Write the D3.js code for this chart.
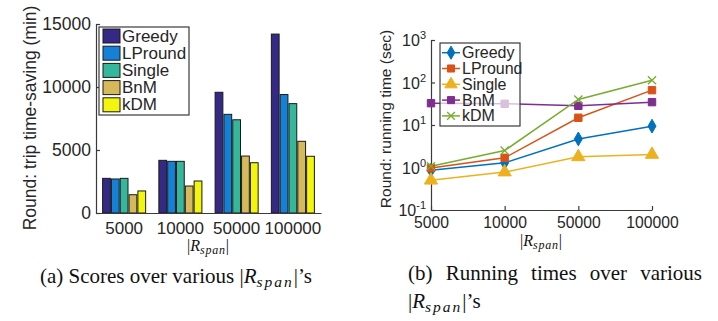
<!DOCTYPE html>
<html>
<head>
<meta charset="utf-8">
<script src="https://cdn.jsdelivr.net/npm/d3@7"></script>
<style>
  body { margin: 0; background: #fff; }
  text { font-family: "Liberation Sans", Arial, sans-serif; fill: #262626; }
  .serif { font-family: "Liberation Serif", "Times New Roman", serif; fill: #111; }
  .axis path, .axis line { stroke: #3a3a3a; stroke-width: 1.2; }
</style>
</head>
<body>
<svg id="chart" width="718" height="321"></svg>
<script>
// categories (|R_span|)
const spans = ["5000", "10000", "50000", "100000"];
const methods = ["Greedy", "LPround", "Single", "BnM", "kDM"];

// (a) trip time-saving (min)
const scoreGreedy = [2750, 4180, 9580, 14200];
const scoreLPround = [2700, 4100, 7830, 9400];
const scoreSingle = [2750, 4100, 7400, 8680];
const scoreBnM = [1450, 2140, 4520, 5690];
const scoreKDM = [1750, 2540, 3990, 4500];

// (b) running time (sec)
const timeGreedy = [0.86, 1.29, 4.7, 9.4];
const timeLPround = [0.97, 1.69, 14.8, 66];
const timeSingle = [0.50, 0.78, 1.78, 2.02];
const timeBnM = [32.6, 31.6, 28.3, 34.5];
const timeKDM = [1.07, 2.5, 39.8, 113];

const yTicksA = [0, 5000, 10000, 15000];
const yTicksB = [0.1, 1, 10, 100, 1000];
const yExpB = ["-1", "0", "1", "2", "3"];

const barColors = ["#342a86", "#1581d6", "#35b79b", "#d6b95a", "#f4f50c"];
const lineColors = ["#0072BD", "#D95319", "#EDB120", "#7E2F8E", "#77AC30"];
const markers = [d3.symbolDiamond, d3.symbolSquare, d3.symbolTriangle, d3.symbolSquare, d3.symbolTimes];

const svg = d3.select("#chart");

// ---------- (a) grouped bars ----------
const scores = [scoreGreedy, scoreLPround, scoreSingle, scoreBnM, scoreKDM];
const xA = d3.scaleBand(spans, [96, 321]).paddingInner(0.235).paddingOuter(0.1175);
const xA1 = d3.scaleBand(methods, [0, xA.bandwidth()]).paddingInner(0.12);
const yA = d3.scaleLinear([0, 15000], [213, 24]);

const gA = svg.append("g");
spans.forEach((s, i) => {
    methods.forEach((m, j) => {
        gA.append("rect")
            .attr("x", xA(s) + xA1(m))
            .attr("y", yA(scores[j][i]))
            .attr("width", xA1.bandwidth())
            .attr("height", yA(0) - yA(scores[j][i]))
            .attr("fill", barColors[j])
            .attr("stroke", "#1a1a1a")
            .attr("stroke-width", 1);
    });
});

gA.append("g").attr("class", "axis")
    .attr("transform", "translate(96,0)")
    .call(d3.axisLeft(yA).tickValues(yTicksA).tickSize(-4).tickPadding(5).tickFormat(d3.format("d")))
    .call(g => g.selectAll("text").style("font-size", "17.5px").attr("fill", "#262626"));

gA.append("g").attr("class", "axis")
    .attr("transform", "translate(0,213)")
    .call(d3.axisBottom(xA).tickSize(0).tickPadding(9).tickSizeOuter(0))
    .call(g => g.selectAll("text").style("font-size", "17px").attr("fill", "#262626"));

svg.append("text")
    .attr("transform", "translate(30,118) rotate(-90)")
    .attr("text-anchor", "middle").attr("dominant-baseline", "central")
    .style("font-size", "17.5px")
    .text("Round: trip time-saving (min)");

// legend (a)
const legA = svg.append("g");
legA.append("rect").attr("x", 99).attr("y", 27).attr("width", 90).attr("height", 88)
    .attr("fill", "#fff").attr("stroke", "#3a3a3a").attr("stroke-width", 1.2);
methods.forEach((m, j) => {
    const y = 36 + j * 17.2;
    legA.append("rect").attr("x", 103).attr("y", y - 7).attr("width", 17).attr("height", 14)
        .attr("fill", barColors[j]).attr("stroke", "#1a1a1a");
    legA.append("text").attr("x", 122).attr("y", y).attr("dominant-baseline", "central")
        .style("font-size", "17px").text(m);
});

// ---------- (b) running time lines ----------
const times = [timeGreedy, timeLPround, timeSingle, timeBnM, timeKDM];
const xB = d3.scalePoint(spans, [431, 652]);
const yB = d3.scaleLog([0.1, 1000], [210, 40]);

const gB = svg.append("g");
gB.append("g").attr("class", "axis")
    .attr("transform", "translate(431,0)")
    .call(d3.axisLeft(yB).tickValues(yTicksB).tickSize(-4).tickFormat(""));
gB.append("g").attr("class", "axis")
    .attr("transform", "translate(0,210)")
    .call(d3.axisBottom(xB).tickSize(-4).tickPadding(7).tickSizeOuter(0))
    .call(g => g.selectAll("text").style("font-size", "15.7px").attr("fill", "#262626"));

yTicksB.forEach((v, i) => {
    const t = gB.append("text").attr("x", 426).attr("y", yB(v) + 6)
        .attr("text-anchor", "end").style("font-size", "16px");
    t.append("tspan").text("10");
    t.append("tspan").attr("dy", -7).style("font-size", "11px").text(yExpB[i]);
});

svg.append("text")
    .attr("transform", "translate(385,119) rotate(-90)")
    .attr("text-anchor", "middle").attr("dominant-baseline", "central")
    .style("font-size", "15.5px")
    .text("Round: running time (sec)");

const line = d3.line().x((d, i) => xB(spans[i])).y(d => yB(d));
times.forEach((arr, j) => {
    gB.append("path").datum(arr).attr("d", line)
        .attr("fill", "none").attr("stroke", lineColors[j]).attr("stroke-width", 1.5);
});
times.forEach((arr, j) => {
    const sym = d3.symbol().type(markers[j]).size(j === 4 ? 45 : j === 2 ? 75 : 55);
    arr.forEach((v, i) => {
        const p = gB.append("path").attr("d", sym())
            .attr("transform", `translate(${xB(spans[i])},${yB(v)})`);
        if (j === 4) p.attr("fill", "none").attr("stroke", lineColors[j]).attr("stroke-width", 1.3);
        else p.attr("fill", lineColors[j]).attr("stroke", lineColors[j]);
    });
});

// legend (b), semi-transparent like the original
const legB = svg.append("g");
legB.append("rect").attr("x", 440).attr("y", 43).attr("width", 80).attr("height", 83)
    .attr("fill", "#fff").attr("fill-opacity", 0.7).attr("stroke", "#3a3a3a").attr("stroke-width", 1.2);
methods.forEach((m, j) => {
    const y = 52.7 + j * 15.8;
    legB.append("line").attr("x1", 442).attr("x2", 460).attr("y1", y).attr("y2", y)
        .attr("stroke", lineColors[j]).attr("stroke-width", 1.5);
    const sym = d3.symbol().type(markers[j]).size(j === 4 ? 40 : j === 2 ? 65 : 50);
    const p = legB.append("path").attr("d", sym()).attr("transform", `translate(451,${y})`);
    if (j === 4) p.attr("fill", "none").attr("stroke", lineColors[j]).attr("stroke-width", 1.3);
    else p.attr("fill", lineColors[j]).attr("stroke", lineColors[j]);
    legB.append("text").attr("x", 462).attr("y", y).attr("dominant-baseline", "central")
        .style("font-size", "16px").text(m);
});

// ---------- x labels |R_span| and captions ----------
function rspan(sel, size, sub, spacing) {
    sel.append("tspan").text("|");
    sel.append("tspan").style("font-style", "italic").text("R");
    sel.append("tspan").style("font-style", "italic").style("font-size", sub + "px")
        .style("letter-spacing", spacing + "px")
        .attr("dy", size * 0.18).text("span");
    sel.append("tspan").attr("dy", -size * 0.18).text("|");
}
rspan(svg.append("text").attr("class", "serif").attr("x", 208).attr("y", 251)
    .attr("text-anchor", "middle").style("font-size", "16px").attr("fill", "#555"), 16, 12, 0.8);
rspan(svg.append("text").attr("class", "serif").attr("x", 541).attr("y", 246)
    .attr("text-anchor", "middle").style("font-size", "16px").attr("fill", "#555"), 16, 12, 0.8);

const capA = svg.append("text").attr("class", "serif").attr("x", 40).attr("y", 283).style("font-size", "21px");
capA.append("tspan").text("(a) Scores over various ");
rspan(capA, 21, 15.5, 2);
capA.append("tspan").text("’s");

// caption (b): justified first line
const words = ["(b)", "Running", "times", "over", "various"];
const wEls = words.map(w => svg.append("text").attr("class", "serif").attr("y", 280)
    .style("font-size", "21px").text(w));
const widths = wEls.map(e => e.node().getComputedTextLength());
const gap = (702 - 408 - d3.sum(widths)) / (words.length - 1);
let cx = 408;
wEls.forEach((e, i) => { e.attr("x", cx); cx += widths[i] + gap; });
const capB2 = svg.append("text").attr("class", "serif").attr("x", 408).attr("y", 308).style("font-size", "21px");
rspan(capB2, 21, 15.5, 2);
capB2.append("tspan").text("’s");
</script>
</body>
</html>
